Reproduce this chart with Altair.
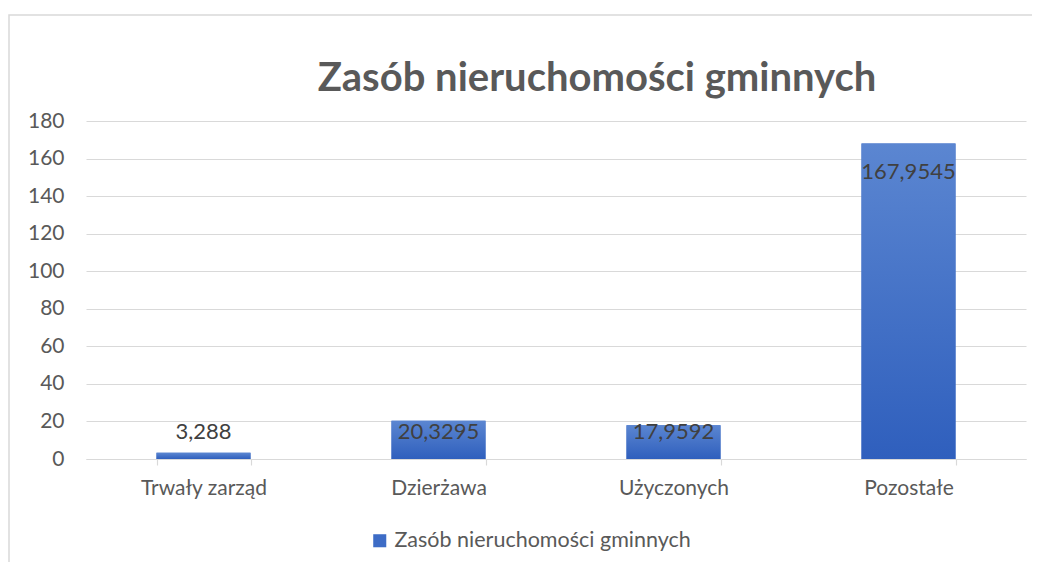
import altair as alt
import pandas as pd

categories = ["Trwały zarząd", "Dzierżawa", "Użyczonych", "Pozostałe"]
values = [3.288, 20.3295, 17.9592, 167.9545]
series_name = "Zasób nieruchomości gminnych"
title_text = "Zasób nieruchomości gminnych"
y_ticks = [0, 20, 40, 60, 80, 100, 120, 140, 160, 180]

df = pd.DataFrame({"kat": categories, "val": values, "seria": [series_name] * len(values)})
title_df = pd.DataFrame({"t": [title_text]})

FONT = "Lato"
W, H = 940, 338

x_scale = alt.Scale(paddingInner=0.6, paddingOuter=0.3)
x_axis = alt.Axis(labelAngle=0, labelFont=FONT, labelFontSize=21, labelColor="#595959",
                  domainColor="#d9d9d9", domainWidth=1.2, tickColor="#d9d9d9", tickWidth=1.2,
                  tickSize=6, tickBand="extent", labelPadding=12, grid=False)
y_scale = alt.Scale(domain=[0, 180], nice=False)
y_axis = alt.Axis(values=y_ticks, labelFont=FONT, labelFontSize=21, labelColor="#595959",
                  labelOverlap=False, domain=False, ticks=False, labelPadding=22,
                  gridColor="#d9d9d9", gridWidth=1.2, tickCount=10)

def xe():
    return alt.X("kat:N", sort=categories, title=None, scale=x_scale, axis=x_axis)

def ye(field):
    return alt.Y(field, title=None, scale=y_scale, axis=y_axis)

base = alt.Chart(df)

border = base.mark_rect(fill=None, stroke="#d9d9d9", strokeWidth=1.5, clip=False).encode(
    x=alt.value(-77), x2=alt.value(975), y=alt.value(-106), y2=alt.value(480)
).transform_filter("datum.kat == 'Pozostałe'")

title_mark = alt.Chart(title_df).mark_text(
    font=FONT, fontSize=40, fontWeight="bold", color="#595959", baseline="alphabetic", align="center"
).encode(x=alt.value(511), y=alt.value(-30), text="t:N")

bars_legend = base.mark_bar().encode(
    x=xe(), y=ye("val:Q"),
    color=alt.Color("seria:N", title=None,
                    scale=alt.Scale(range=["#3d6cc6"]),
                    legend=alt.Legend(orient="none", legendX=283, legendY=409, symbolType="square",
                                      symbolSize=170, labelFont=FONT, labelFontSize=21.5, labelLimit=600,
                                      labelColor="#595959", labelOffset=4)),
)

grad = alt.Gradient(gradient="linear", x1=0, y1=0, x2=0, y2=1,
                    stops=[alt.GradientStop(color="#5b86d1", offset=0),
                           alt.GradientStop(color="#2f5fbd", offset=1)])
bars_grad = base.mark_bar(color=grad).encode(x=xe(), y=ye("val:Q"))

labels = base.transform_calculate(
    lpos="datum.val < 30 ? 14.3 : datum.val - 15",
    txt="replace(toString(datum.val), '.', ',')"
).mark_text(font=FONT, fontSize=22, color="#404040", baseline="middle").encode(
    x=xe(), y=ye("lpos:Q"), text="txt:N"
)

chart = alt.layer(border, title_mark, bars_legend, bars_grad, labels).properties(
    width=W, height=H,
    autosize=alt.AutoSizeParams(type="none"),
    padding={"left": 78, "top": 113, "right": 6, "bottom": 103},
).configure_view(stroke=None)

chart.save("out.html", embed_options={"renderer": "svg", "actions": False})
